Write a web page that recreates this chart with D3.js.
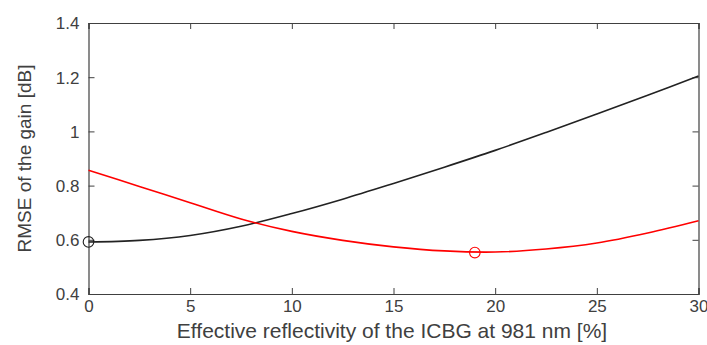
<!DOCTYPE html>
<html>
<head>
<meta charset="utf-8">
<script src="https://cdn.jsdelivr.net/npm/d3@7"></script>
<style>
  html, body { margin: 0; padding: 0; background: #fff; }
  svg { display: block; font-family: "Liberation Sans", Arial, Helvetica, sans-serif; }
</style>
</head>
<body>
<svg id="chart" width="707" height="345"></svg>
<script>
// ---- data ----
const xValues = [0, 2.5, 5, 7.5, 10, 12.5, 15, 17.5, 20, 22.5, 25, 27.5, 30];
const blackSeries = [0.592, 0.598, 0.616, 0.650, 0.697, 0.750, 0.808, 0.868, 0.930, 0.996, 1.064, 1.133, 1.204];
const redSeries   = [0.857, 0.797, 0.737, 0.677, 0.631, 0.598, 0.574, 0.559, 0.555, 0.566, 0.588, 0.625, 0.670];
const blackMarker = [0, 0.592];
const redMarker = [19, 0.553];
const xTicks = [0, 5, 10, 15, 20, 25, 30];
const yTicks = [0.4, 0.6, 0.8, 1, 1.2, 1.4];
const xLabel = "Effective reflectivity of the ICBG at 981 nm [%]";
const yLabel = "RMSE of the gain [dB]";

// ---- layout ----
const svg = d3.select("#chart");
const L = 88.5, R = 698.5, T = 23, B = 294;
const x = d3.scaleLinear().domain([0, 30]).range([L, R]);
const y = d3.scaleLinear().domain([0.4, 1.4]).range([B, T]);
const axisColor = "#404040";
const tickLen = 6;

const fmtY = d => d3.format("")(+d.toFixed(1));

const gB = svg.append("g").attr("transform", `translate(0,${B})`)
  .call(d3.axisBottom(x).tickValues(xTicks).tickSize(-tickLen).tickPadding(6).tickFormat(d3.format("d")));
const gT = svg.append("g").attr("transform", `translate(0,${T})`)
  .call(d3.axisTop(x).tickValues(xTicks).tickSize(-tickLen).tickFormat(""));
const gL = svg.append("g").attr("transform", `translate(${L},0)`)
  .call(d3.axisLeft(y).tickValues(yTicks).tickSize(-tickLen).tickPadding(9).tickFormat(fmtY));
const gR = svg.append("g").attr("transform", `translate(${R},0)`)
  .call(d3.axisRight(y).tickValues(yTicks).tickSize(-tickLen).tickFormat(""));

[gB, gT, gL, gR].forEach(g => {
  g.select(".domain").attr("stroke", axisColor).attr("stroke-width", 1.2);
  g.selectAll(".tick line").attr("stroke", axisColor).attr("stroke-width", 1);
  g.selectAll(".tick text").attr("fill", axisColor).style("font-size", "17px")
    .style("font-family", "'Liberation Sans', Arial, Helvetica, sans-serif");
});
gL.selectAll(".tick text").attr("dy", "0.35em");

// ---- lines ----
const pts = s => xValues.map((xv, i) => [xv, s[i]]);
const line = d3.line().x(d => x(d[0])).y(d => y(d[1])).curve(d3.curveCatmullRom.alpha(0.5));

svg.append("path").datum(pts(blackSeries)).attr("d", line)
  .attr("fill", "none").attr("stroke", "#222").attr("stroke-width", 1.6);
svg.append("path").datum(pts(redSeries)).attr("d", line)
  .attr("fill", "none").attr("stroke", "#ff0000").attr("stroke-width", 1.6);

svg.append("circle").attr("cx", x(blackMarker[0])).attr("cy", y(blackMarker[1])).attr("r", 5.3)
  .attr("fill", "none").attr("stroke", "#222").attr("stroke-width", 1.1);
svg.append("circle").attr("cx", x(redMarker[0])).attr("cy", y(redMarker[1])).attr("r", 5.3)
  .attr("fill", "none").attr("stroke", "#ff0000").attr("stroke-width", 1.1);

// ---- labels ----
svg.append("text").attr("x", (L + R) / 2 - 1.5).attr("y", 337.5).attr("text-anchor", "middle")
  .attr("fill", axisColor).style("font-size", "21px").text(xLabel);
svg.append("text").attr("transform", `translate(31,${(T + B) / 2}) rotate(-90)`)
  .attr("text-anchor", "middle").attr("fill", axisColor).style("font-size", "19px").text(yLabel);
</script>
</body>
</html>
